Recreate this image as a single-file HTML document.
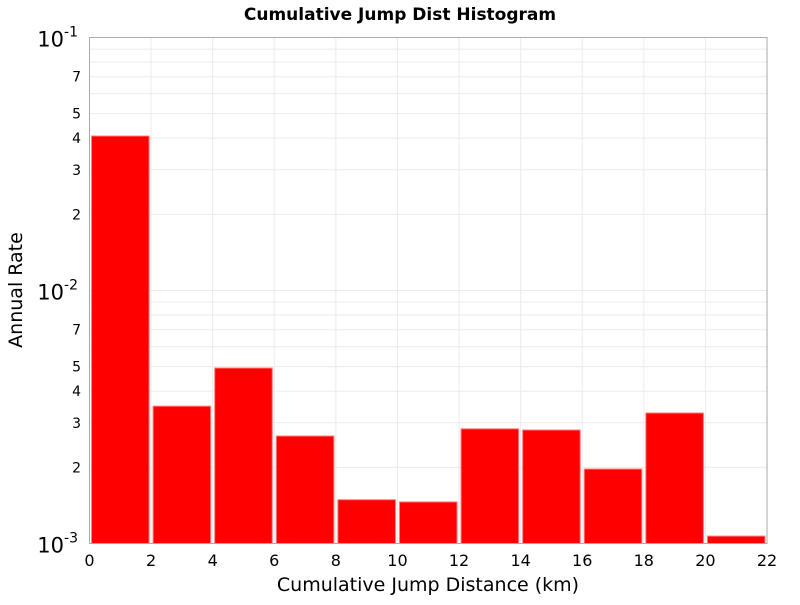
<!DOCTYPE html>
<html><head><meta charset="utf-8"><style>
body{margin:0;background:#fff;}
svg text{font-family:"DejaVu Sans","Liberation Sans",sans-serif;}
</style></head><body>
<svg id="chart" width="800" height="600">
<text x="400" y="20" text-anchor="middle" font-size="17" font-weight="bold">Cumulative Jump Dist Histogram</text>
<g id="grid"></g><g id="bars"></g><g id="axes"></g>
<text x="428" y="591" text-anchor="middle" font-size="19">Cumulative Jump Distance (km)</text>
<text transform="translate(22,290) rotate(-90)" text-anchor="middle" font-size="19">Annual Rate</text>
</svg>
<script>
const binStarts=[0,2,4,6,8,10,12,14,16,18,20];
const binWidth=2;
const rates=[0.0408,0.00349,0.00494,0.00266,0.00149,0.00146,0.00284,0.00281,0.00197,0.00328,0.00107];
const xTicks=[0,2,4,6,8,10,12,14,16,18,20,22];
const yMinorLabels=[2,3,4,5,7];
const L=89.5,R=767,T=37.5,B=543.5;
const xs=v=>L+(v-0)/22*(R-L);
const ys=v=>B-(Math.log10(v)+3)/2*(B-T);
const NS="http://www.w3.org/2000/svg";
function mk(tag,attrs,parent,txt){const e=document.createElementNS(NS,tag);for(const k in attrs)e.setAttribute(k,attrs[k]);if(txt!==undefined)e.textContent=txt;parent.appendChild(e);return e;}
const grid=document.getElementById('grid'),bars=document.getElementById('bars'),axes=document.getElementById('axes');
xTicks.forEach(t=>{
 const l=mk('line',{x1:xs(t),x2:xs(t),y1:T,y2:B,stroke:'#ebebeb'},grid);
 
 
 const tx=mk('text',{x:xs(t),y:566,'text-anchor':'middle','font-size':16},axes,t);
 
 
});
[-3,-2].forEach(d=>{for(let m=1;m<=9;m++){const v=m*Math.pow(10,d);
 const l=mk('line',{x1:L,x2:R,y1:ys(v),y2:ys(v),stroke:'#ebebeb'},grid);
 
 
 if(yMinorLabels.includes(m)){const tx=mk('text',{x:81,y:ys(v)+5,'text-anchor':'end','font-size':14},axes,m);
  
  }
}});
[[-1,0.1],[-2,0.01],[-3,0.001]].forEach(([e,v])=>{
 const tx=mk('text',{x:78,y:ys(v)+9,'text-anchor':'end','font-size':21},axes);
 
 
 mk('tspan',{},tx,'10');mk('tspan',{dy:-10,'font-size':14},tx,e);
});
binStarts.forEach((s,i)=>{
 const x0=xs(s)+2,x1=xs(s+binWidth)-2,y=ys(rates[i]);
 const r=mk('rect',{x:x0,y:y,width:x1-x0,height:B-y,fill:'#ff0000',stroke:'#ff8080','stroke-width':1},bars);
 
 
});
const f=mk('rect',{x:L,y:T,width:R-L,height:B-T,fill:'none',stroke:'#aaaaaa'},axes);


</script>
</body></html>
